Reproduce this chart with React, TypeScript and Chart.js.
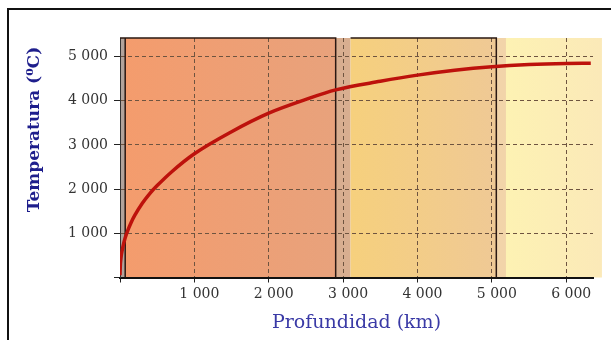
import { useEffect, useRef } from 'react';
import { Chart, registerables } from 'chart.js';

Chart.register(...registerables);

// ---- data ----
const depthKm = [0, 5, 10, 20, 40, 70, 100, 150, 200, 300, 400, 500, 700, 1000, 1500, 2000, 2500, 2900, 3500, 4000, 4500, 5000, 5500, 6000, 6330];
const temperatureC = [50, 290, 390, 525, 705, 900, 1045, 1245, 1410, 1680, 1900, 2080, 2400, 2800, 3300, 3720, 4030, 4245, 4440, 4580, 4690, 4770, 4820, 4845, 4850];
const xTickValues = [0, 1000, 2000, 3000, 4000, 5000, 6000];
const yTickValues = [0, 1000, 2000, 3000, 4000, 5000];
// layer boundaries (km): crust, mantle, CMB zone, outer core, ICB zone, inner core
const layerBoundsKm = [0, 70, 2900, 3100, 5060, 5190, 6480];
const xMaxKm = 6360;
const yMaxC = 5420;

// ---- styles ----
const layerFills: [string, string][] = [
  ['#b2a39b', '#b2a39b'],
  ['#f49c6d', '#e8a27c'],
  ['#d8ae90', '#d8ae90'],
  ['#f6d07d', '#efc995'],
  ['#f2d4a9', '#f2d4a9'],
  ['#fdf2b3', '#fbe9b8'],
];
const FONT = 'DejaVu Serif';

const fmt = (v: number) => (v === 0 ? '' : String(v).replace(/\B(?=(\d{3})+(?!\d))/g, ' '));

const bandsPlugin = {
  id: 'bands',
  beforeDraw(chart: any) {
    const { ctx, chartArea, scales } = chart;
    const x = scales.x;
    ctx.save();
    for (let i = 0; i < layerBoundsKm.length - 1; i++) {
      const x0 = x.getPixelForValue(layerBoundsKm[i]);
      const x1 = x.getPixelForValue(layerBoundsKm[i + 1]);
      const g = ctx.createLinearGradient(x0, 0, x1, 0);
      g.addColorStop(0, layerFills[i][0]);
      g.addColorStop(1, layerFills[i][1]);
      ctx.fillStyle = g;
      ctx.fillRect(x0, chartArea.top, x1 - x0, chartArea.bottom - chartArea.top);
    }
    ctx.restore();
  },
  beforeDatasetsDraw(chart: any) {
    const { ctx, chartArea, scales } = chart;
    const x = scales.x;
    const t = chartArea.top;
    const b = chartArea.bottom;
    const px = (v: number) => x.getPixelForValue(v);
    ctx.save();
    ctx.strokeStyle = '#2a1812';
    ctx.lineWidth = 1.5;
    ctx.setLineDash([]);
    ctx.beginPath();
    ctx.moveTo(px(layerBoundsKm[0]), t);
    ctx.lineTo(px(layerBoundsKm[2]), t);
    ctx.lineTo(px(layerBoundsKm[2]), b);
    ctx.moveTo(px(layerBoundsKm[1]), t);
    ctx.lineTo(px(layerBoundsKm[1]), b);
    ctx.moveTo(px(layerBoundsKm[3]), t);
    ctx.lineTo(px(layerBoundsKm[4]), t);
    ctx.lineTo(px(layerBoundsKm[4]), b);
    ctx.stroke();
    ctx.restore();
  },
  afterDraw(chart: any) {
    const { ctx, chartArea } = chart;
    ctx.save();
    ctx.translate(chartArea.left - 85, chartArea.top + 91.5);
    ctx.rotate(-Math.PI / 2);
    ctx.font = `bold 17px "${FONT}"`;
    ctx.fillStyle = '#1e1e8c';
    ctx.textAlign = 'center';
    ctx.textBaseline = 'middle';
    ctx.fillText('Temperatura (\u2070C)', 0, 0);
    ctx.restore();
  },
};

export default function App() {
  const ref = useRef<HTMLCanvasElement>(null);
  useEffect(() => {
    if (!ref.current) return;
    const chart = new Chart(ref.current, {
      type: 'line',
      data: {
        datasets: [
          {
            data: depthKm.map((d, i) => ({ x: d, y: temperatureC[i] })),
            borderColor: '#bd120c',
            borderWidth: 3.5,
            pointRadius: 0,
            cubicInterpolationMode: 'monotone',
            fill: false,
          },
        ],
      },
      options: {
        animation: false,
        responsive: false,
        maintainAspectRatio: false,
        layout: { padding: { top: 28, right: 18, left: 0, bottom: 0 } },
        plugins: { legend: { display: false }, tooltip: { enabled: false } },
        scales: {
          x: {
            type: 'linear',
            min: 0,
            max: xMaxKm,
            afterBuildTicks: (s: any) => {
              s.ticks = xTickValues.map((v) => ({ value: v }));
            },
            afterFit: (s: any) => {
              s.height = 62.5;
            },
            ticks: {
              callback: (v: any) => fmt(Number(v)),
              font: { family: FONT, size: 14 },
              color: '#333333',
              padding: 3,
              labelOffset: 5,
              maxRotation: 0,
              autoSkip: false,
            },
            grid: {
              color: '#6e5440',
              lineWidth: 1,
              tickLength: 5,
              tickColor: '#222',
              tickWidth: 1,
            },
            border: { display: true, color: '#111', width: 2, dash: [4, 3] },
            title: {
              display: true,
              text: 'Profundidad (km)',
              font: { family: FONT, size: 19 },
              color: '#3a3aa6',
              padding: { top: 0, bottom: 6 },
            },
          },
          y: {
            type: 'linear',
            min: 0,
            max: yMaxC,
            afterBuildTicks: (s: any) => {
              s.ticks = yTickValues.map((v) => ({ value: v }));
            },
            afterFit: (s: any) => {
              s.width = 111;
            },
            ticks: {
              callback: (v: any) => fmt(Number(v)),
              font: { family: FONT, size: 14 },
              color: '#333333',
              padding: 6,
            },
            grid: {
              color: '#6e5440',
              lineWidth: 1,
              tickLength: 6,
              tickColor: '#222',
              tickWidth: 1,
            },
            border: { display: true, color: '#333', width: 1, dash: [4, 3] },
          },
        },
      },
      plugins: [bandsPlugin],
    } as any);
    return () => chart.destroy();
  }, []);

  return (
    <div
      style={{
        position: 'fixed',
        left: 7,
        top: 8,
        width: 604,
        height: 332,
        borderTop: '2px solid #111',
        borderLeft: '2px solid #111',
        background: '#fff',
        overflow: 'hidden',
      }}
    >
      <canvas ref={ref} width={602} height={330} style={{ display: 'block' }} />
    </div>
  );
}
